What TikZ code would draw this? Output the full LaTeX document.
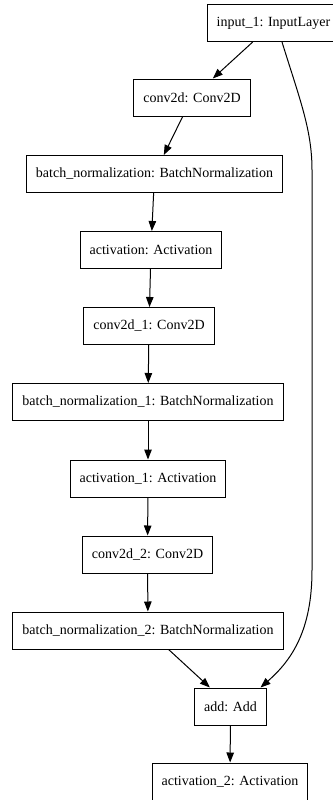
\documentclass[tikz,border=0pt]{standalone}
\usepackage{fontspec}
\setmainfont{Liberation Serif}
\usetikzlibrary{arrows.meta}
\begin{document}
\begin{tikzpicture}[x=1pt,y=1pt,
  layer/.style={draw=black, line width=1pt, fill=white, minimum height=37pt,
    inner xsep=9.5pt, inner ysep=0pt, font=\fontsize{14}{16}\selectfont},
  flow/.style={draw=black, line width=1pt,
    -{Triangle[length=10pt,width=7.5pt]}}]
\useasboundingbox (0,0) rectangle (332,-800);
\node[layer] (in)   at (273.5,-23)   {input\_1: InputLayer};
\node[layer] (c0)   at (192,-97.5)   {conv2d: Conv2D};
\node[layer] (b0)   at (154.5,-174)  {batch\_normalization: BatchNormalization};
\node[layer] (a0)   at (151,-250)    {activation: Activation};
\node[layer] (c1)   at (149,-326)    {conv2d\_1: Conv2D};
\node[layer] (b1)   at (148,-402)    {batch\_normalization\_1: BatchNormalization};
\node[layer] (a1)   at (148,-478.5)  {activation\_1: Activation};
\node[layer] (c2)   at (147.5,-554.5){conv2d\_2: Conv2D};
\node[layer] (b2)   at (148,-630.5)  {batch\_normalization\_2: BatchNormalization};
\node[layer] (add)  at (230.5,-706.5){add: Add};
\node[layer] (a2)   at (230,-781.5)  {activation\_2: Activation};
\draw[flow] (in) -- (c0);
\draw[flow] (c0) -- (b0);
\draw[flow] (b0) -- (a0);
\draw[flow] (a0) -- (c1);
\draw[flow] (c1) -- (b1);
\draw[flow] (b1) -- (a1);
\draw[flow] (a1) -- (c2);
\draw[flow] (c2) -- (b2);
\draw[flow] (b2) -- (add);
\draw[flow] (add) -- (a2);
% residual shortcut from the input to the sum
\draw[flow] ([xshift=8.5pt]in.south)
  .. controls (300,-100) and (312,-130) .. (312,-170)
  -- (312,-570)
  .. controls (312,-630) and (292,-660) .. ([xshift=30pt]add.north);
\end{tikzpicture}
\end{document}
